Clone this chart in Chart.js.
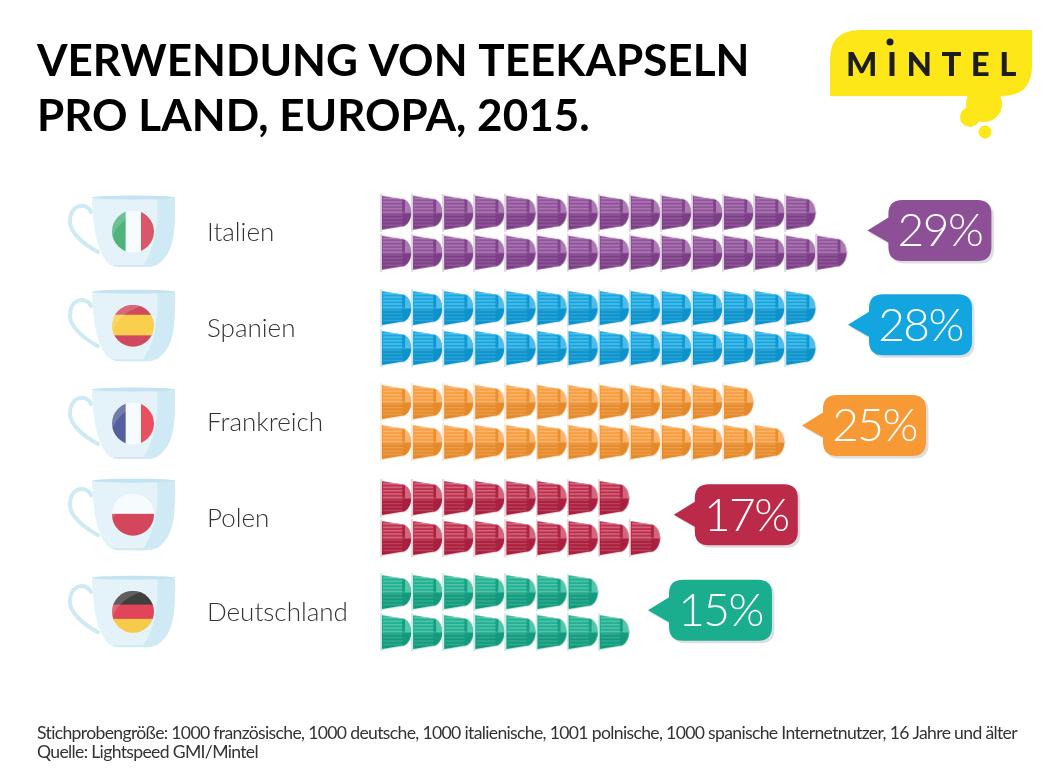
<!DOCTYPE html>
<html lang="de">
<head>
<meta charset="utf-8">
<title>Verwendung von Teekapseln pro Land</title>
<script src="https://cdn.jsdelivr.net/npm/chart.js@4/dist/chart.umd.min.js"></script>
<style>
  html, body { margin: 0; padding: 0; background: #fff; }
  canvas { display: block; }
</style>
</head>
<body>
<canvas id="chart" width="1062" height="784" style="width:1062px;height:784px"></canvas>
<script>
// Chart content
const titleLines = ['VERWENDUNG VON TEEKAPSELN', 'PRO LAND, EUROPA, 2015.'];
const footnoteLines = [
  'Stichprobengröße: 1000 französische, 1000 deutsche, 1000 italienische, 1001 polnische, 1000 spanische Internetnutzer, 16 Jahre und älter',
  'Quelle: Lightspeed GMI/Mintel'
];
const categories = ['Italien', 'Spanien', 'Frankreich', 'Polen', 'Deutschland'];
const shares = [29, 28, 25, 17, 15];

// Country palettes
const capsuleBase = ['#8d4f96', '#12a5df', '#f79a36', '#bc2a49', '#1aae8e'];
const capsuleDark = ['#7c3f86', '#0d93cc', '#e58a2a', '#a91f3e', '#129a7c'];
const capsuleLight = ['#b98cc0', '#66c6ec', '#fcc088', '#dc7f93', '#6dcfb7'];
const capsuleRim = ['#dccbe0', '#c0e5f5', '#fde3c6', '#f1ccd4', '#c4ebe0'];
const flagBands = [
  { dir: 'v', colors: ['#4fb47c', '#f6fbfd', '#d9566b'], stops: [0, 0.325, 0.69, 1] },
  { dir: 'h', colors: ['#d04a5f', '#f9cf4b', '#d04a5f'], stops: [0, 0.24, 0.73, 1] },
  { dir: 'v', colors: ['#565f9e', '#f6fbfd', '#e8505f'], stops: [0, 0.325, 0.69, 1] },
  { dir: 'h', colors: ['#f6fbfd', '#d4465c'], stops: [0, 0.48, 1] },
  { dir: 'h', colors: ['#3f3f3f', '#e0455a', '#f6cb4a'], stops: [0, 0.33, 0.67, 1] }
];

// Layout in axis units and pixels
const columnPitch = 31.1;
const firstColumn = 397;
const rowUnit = 95;
const rowCentre = [0, 1.005, 1.995, 3.005, 3.995];
const laneOffset = 0.2105;
const plotLeft = 37, plotRight = 1025;
const rowZero = 232.7;
const calloutTipGap = [35, 46.7, 31.8, 28, 33.3];
const calloutShift = [-2.2, -3.5, 3.3, -3.5, -2.0];
const cupShift = [-0.7, -2, 1.8, -3, 0];
const calloutW = 103, calloutH = 61, calloutTail = 21;

const fontFamily = 'Lato, Carlito, sans-serif';

// One capsule sprite per country: rim, tapered body, domed end
function makeCapsule(i) {
  const c = document.createElement('canvas');
  c.width = 34; c.height = 40;
  const g = c.getContext('2d');
  const mid = 20;
  const body = new Path2D();
  body.moveTo(2, mid - 17);
  body.lineTo(23, mid - 13.5);
  body.lineTo(25, mid - 13);
  body.quadraticCurveTo(30.5, mid - 10, 31.5, mid);
  body.quadraticCurveTo(30.5, mid + 10, 25, mid + 13);
  body.lineTo(23, mid + 13.5);
  body.lineTo(2, mid + 17);
  body.closePath();
  g.save();
  g.clip(body);
  g.fillStyle = capsuleBase[i];
  g.fillRect(0, 0, 34, mid);
  g.fillStyle = capsuleDark[i];
  g.fillRect(0, mid, 34, 20);
  // Ribbed stripes along the body
  g.fillStyle = capsuleLight[i];
  g.globalAlpha = 0.8;
  for (let y = mid - 15; y < mid - 1; y += 3.4) g.fillRect(3, y, 20, 1.5);
  g.globalAlpha = 0.45;
  for (let y = mid + 1.5; y < mid + 15; y += 3.4) g.fillRect(3, y, 20, 1.2);
  g.globalAlpha = 1;
  // Domed end: a lighter facet on top and a centre seam
  g.fillStyle = capsuleDark[i];
  g.globalAlpha = 0.7;
  g.fillRect(22, 0, 3, 40);
  g.fillStyle = capsuleLight[i];
  g.fillRect(25, 0, 9, mid);
  g.globalAlpha = 0.5;
  g.fillRect(2, mid - 0.5, 32, 1);
  g.globalAlpha = 1;
  g.restore();
  // Rim
  g.fillStyle = capsuleRim[i];
  g.fillRect(0.2, 1, 1.8, 38);
  return c;
}
const capsuleSprites = categories.map((_, i) => makeCapsule(i));

// Two lanes per country: the shorter one on top, one capsule per percentage point
function capsulePoints(i) {
  const upper = Math.floor(shares[i] / 2);
  const lower = shares[i] - upper;
  const pts = [];
  for (let k = 0; k < upper; k++) pts.push({ x: k, y: rowCentre[i] - laneOffset });
  for (let k = 0; k < lower; k++) pts.push({ x: k, y: rowCentre[i] + laneOffset });
  return pts;
}

const stipple = (() => {
  const c = document.createElement('canvas');
  c.width = 4; c.height = 4;
  const g = c.getContext('2d');
  g.fillStyle = '#e3f2f8';
  g.fillRect(0, 0, 4, 4);
  g.fillStyle = '#eff8fb';
  g.fillRect(0, 0, 1, 1);
  g.fillRect(2, 2, 1, 1);
  return c;
})();

function drawCup(ctx, i, cy) {
  const top = cy - 35;
  const px = (x) => x;
  const py = (y) => top + y;
  ctx.save();
  // Handle
  ctx.strokeStyle = '#cfeaf3';
  ctx.lineWidth = 4;
  ctx.lineCap = 'round';
  ctx.beginPath();
  ctx.moveTo(px(91), py(15));
  ctx.bezierCurveTo(px(88), py(6), px(70), py(5), px(70), py(25));
  ctx.bezierCurveTo(px(70), py(36), px(85), py(48), px(98), py(55));
  ctx.stroke();
  // Foot
  ctx.fillStyle = '#cfeaf3';
  ctx.beginPath();
  ctx.moveTo(px(110), py(66));
  ctx.lineTo(px(157), py(66));
  ctx.quadraticCurveTo(px(155), py(70), px(148), py(70));
  ctx.lineTo(px(119), py(70));
  ctx.quadraticCurveTo(px(112), py(70), px(110), py(66));
  ctx.fill();
  // Bowl
  const bowl = new Path2D();
  bowl.moveTo(px(92), py(0));
  bowl.lineTo(px(175), py(0));
  bowl.bezierCurveTo(px(175), py(35), px(175), py(55), px(157), py(68));
  bowl.lineTo(px(110), py(68));
  bowl.bezierCurveTo(px(98), py(58), px(93), py(35), px(92), py(0));
  bowl.closePath();
  ctx.fillStyle = ctx.createPattern(stipple, 'repeat');
  ctx.fill(bowl);
  // Shaded right side
  ctx.save();
  ctx.clip(bowl);
  ctx.fillStyle = '#cfeaf4';
  ctx.beginPath();
  ctx.moveTo(px(157), py(0));
  ctx.lineTo(px(176), py(0));
  ctx.lineTo(px(176), py(70));
  ctx.lineTo(px(142), py(70));
  ctx.quadraticCurveTo(px(160), py(45), px(157), py(0));
  ctx.fill();
  ctx.restore();
  // Top rim
  ctx.fillStyle = '#c2e3ef';
  ctx.beginPath();
  ctx.ellipse(px(133.5), py(0.5), 41, 2, 0, 0, Math.PI * 2);
  ctx.fill();
  // Flag on the bowl
  const fx = 133, fy = py(34.5), r = 21;
  ctx.beginPath();
  ctx.arc(fx, fy, r, 0, Math.PI * 2);
  ctx.clip();
  const f = flagBands[i];
  f.colors.forEach((col, k) => {
    ctx.fillStyle = col;
    const a = f.stops[k], b = f.stops[k + 1];
    if (f.dir === 'v') ctx.fillRect(fx - r + a * 2 * r, fy - r, (b - a) * 2 * r + 0.5, 2 * r);
    else ctx.fillRect(fx - r, fy - r + a * 2 * r, 2 * r, (b - a) * 2 * r + 0.5);
  });
  // Glossy highlight
  ctx.fillStyle = 'rgba(255,255,255,0.17)';
  ctx.beginPath();
  ctx.moveTo(fx - r, fy + 6);
  ctx.quadraticCurveTo(fx - 12, fy - 16, fx + 14, fy - r);
  ctx.lineTo(fx - r, fy - r);
  ctx.closePath();
  ctx.fill();
  ctx.restore();
}

function drawCallout(ctx, i, tipX, cy) {
  const left = tipX + calloutTail;
  const top = cy - calloutH / 2;
  const r = 14;
  const outline = new Path2D();
  outline.moveTo(left + r, top);
  outline.lineTo(left + calloutW - r, top);
  outline.quadraticCurveTo(left + calloutW, top, left + calloutW, top + r);
  outline.lineTo(left + calloutW, top + calloutH - r);
  outline.quadraticCurveTo(left + calloutW, top + calloutH, left + calloutW - r, top + calloutH);
  outline.lineTo(left + r, top + calloutH);
  outline.quadraticCurveTo(left, top + calloutH, left, top + calloutH - r);
  outline.lineTo(left, cy + 12);
  outline.lineTo(tipX, cy);
  outline.lineTo(left, cy - 13);
  outline.lineTo(left, top + r);
  outline.quadraticCurveTo(left, top, left + r, top);
  outline.closePath();
  ctx.save();
  ctx.translate(2.5, 2.5);
  ctx.fillStyle = '#dedee2';
  ctx.fill(outline);
  ctx.restore();
  ctx.fillStyle = capsuleBase[i];
  ctx.fill(outline);
  ctx.fillStyle = '#fff';
  ctx.font = `300 46px ${fontFamily}`;
  ctx.textAlign = 'center';
  ctx.textBaseline = 'middle';
  ctx.letterSpacing = '-1.5px';
  ctx.fillText(shares[i] + '%', left + calloutW / 2, cy + 1);
  ctx.letterSpacing = '0px';
}

function drawLogo(ctx) {
  ctx.save();
  ctx.fillStyle = '#fde718';
  ctx.beginPath();
  ctx.moveTo(860, 30);
  ctx.lineTo(1032, 30);
  ctx.lineTo(1032, 66);
  ctx.quadraticCurveTo(1032, 96, 1002, 96);
  ctx.lineTo(830, 96);
  ctx.lineTo(830, 60);
  ctx.quadraticCurveTo(830, 30, 860, 30);
  ctx.fill();
  [[984, 104, 18], [970, 117, 10], [985, 132, 6.5]].forEach(([x, y, r]) => {
    ctx.beginPath();
    ctx.arc(x, y, r, 0, Math.PI * 2);
    ctx.fill();
  });
  ctx.fillStyle = '#1d1d1b';
  ctx.font = `900 33px ${fontFamily}`;
  ctx.textAlign = 'left';
  ctx.textBaseline = 'alphabetic';
  ctx.letterSpacing = '9.5px';
  ctx.fillText('MINTEL', 846, 76);
  ctx.letterSpacing = '0px';
  ctx.beginPath();
  ctx.arc(890, 42, 3.5, 0, Math.PI * 2);
  ctx.fill();
  ctx.restore();
}

const infographicParts = {
  id: 'infographicParts',
  // The footnote is set tighter than the font's default tracking
  afterLayout(chart) {
    const note = chart.boxes.find((b) => b.options && b.options.position === 'bottom' && b.options.text === footnoteLines);
    if (note && !note.trackedDraw) {
      const plainDraw = note.draw.bind(note);
      note.trackedDraw = true;
      note.draw = (area) => {
        chart.ctx.letterSpacing = '-0.665px';
        plainDraw(area);
        chart.ctx.letterSpacing = '0px';
      };
    }
  },
  beforeDatasetsDraw(chart) {
    const { ctx, scales } = chart;
    drawLogo(ctx);
    categories.forEach((_, i) => {
      const cy = scales.y.getPixelForValue(rowCentre[i]);
      drawCup(ctx, i, cy + cupShift[i]);
      const lastCol = Math.ceil(shares[i] / 2) - 1;
      const tipX = scales.x.getPixelForValue(lastCol) + calloutTipGap[i];
      drawCallout(ctx, i, tipX, cy + calloutShift[i]);
    });
  }
};

const chartTop = 163, chartBottom = 706;

new Chart(document.getElementById('chart'), {
  type: 'scatter',
  plugins: [infographicParts],
  data: {
    datasets: categories.map((name, i) => ({
      label: name,
      data: capsulePoints(i),
      pointStyle: capsuleSprites[i],
      pointRadius: 1,
      pointHoverRadius: 1,
      pointBorderWidth: 0,
      clip: false
    }))
  },
  options: {
    responsive: false,
    maintainAspectRatio: false,
    animation: false,
    events: [],
    layout: { padding: { left: plotLeft, right: 1062 - plotRight, top: 0, bottom: 0 } },
    plugins: {
      legend: { display: false },
      tooltip: { enabled: false },
      title: {
        display: true,
        text: titleLines,
        align: 'start',
        color: '#000',
        font: { family: fontFamily, size: 44, weight: 700, lineHeight: 55 / 44 },
        padding: { top: 34, bottom: 19 }
      },
      subtitle: {
        display: true,
        position: 'bottom',
        text: footnoteLines,
        align: 'start',
        color: '#333',
        font: { family: fontFamily, size: 17.6, weight: 400, lineHeight: 19 / 17.6 },
        padding: { top: 18, bottom: 22 }
      }
    },
    scales: {
      x: {
        type: 'linear',
        display: false,
        min: (plotLeft - firstColumn) / columnPitch,
        max: (plotRight - firstColumn) / columnPitch
      },
      y: {
        type: 'linear',
        reverse: true,
        min: (chartTop - rowZero) / rowUnit,
        max: (chartBottom - rowZero) / rowUnit,
        border: { display: false },
        grid: { display: false, drawTicks: false },
        afterBuildTicks(axis) { axis.ticks = rowCentre.map((value) => ({ value })); },
        afterFit(axis) {
          // The labels sit inside the plot, so the axis itself takes no room
          axis.width = 0;
          axis.paddingTop = 0;
          axis.paddingBottom = 0;
        },
        ticks: {
          mirror: true,
          padding: 170,
          autoSkip: false,
          color: '#333',
          font: { family: fontFamily, size: 26, weight: 300 },
          callback: (value, index) => categories[index]
        }
      }
    }
  }
});
</script>
</body>
</html>
